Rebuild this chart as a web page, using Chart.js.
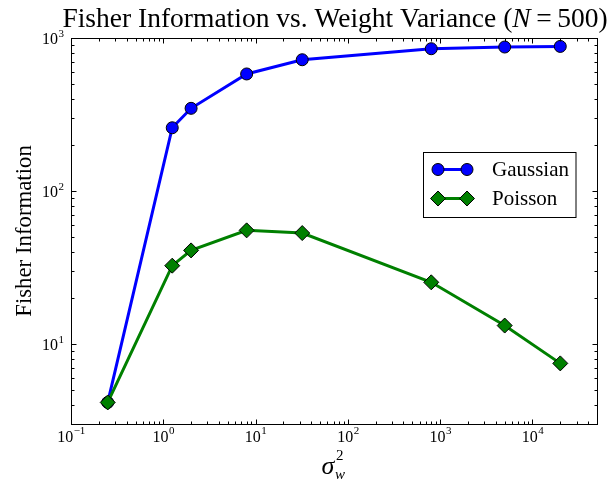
<!DOCTYPE html>
<html>
<head>
<meta charset="utf-8">
<script src="https://cdn.jsdelivr.net/npm/chart.js@4"></script>
<style>
html,body{margin:0;padding:0;background:#fff;}
canvas{display:block;}
</style>
</head>
<body>
<canvas id="c" width="614" height="479"></canvas>
<script>
// ---- data ----
const sigmaW2 = [0.25, 1.25, 2, 8, 32, 800, 5000, 20000];
const gaussian = [4.15, 259, 347, 582, 721, 851, 873, 881];
const poisson = [4.15, 32.5, 40.9, 55.3, 53.1, 25.3, 13.2, 7.47];
const seriesNames = ['Gaussian', 'Poisson'];
const xTickExps = [-1, 0, 1, 2, 3, 4];
const yTickExps = [1, 2, 3];
const titleParts = ['Fisher Information vs. Weight Variance (', 'N', '\u2009=\u2009500)'];
const yTitle = 'Fisher Information';

const SERIF = '"Liberation Serif", "DejaVu Serif", serif';

function pts(xs, ys) { return xs.map((x, i) => ({x: x, y: ys[i]})); }

function drawPow(ctx, exp, x, y, align, baseSize, expSize, rise) {
  const e = String(exp).replace('-', '\u2212');
  ctx.font = baseSize + 'px ' + SERIF;
  const w1 = ctx.measureText('10').width;
  ctx.font = expSize + 'px ' + SERIF;
  const w2 = ctx.measureText(e).width;
  let start;
  if (align === 'center') start = x - (w1 + w2) / 2;
  else start = x - (w1 + w2);
  ctx.textAlign = 'left';
  ctx.textBaseline = 'alphabetic';
  ctx.font = baseSize + 'px ' + SERIF;
  ctx.fillText('10', start, y);
  ctx.font = expSize + 'px ' + SERIF;
  ctx.fillText(e, start + w1 + 0.5, y - rise);
}

const decor = {
  id: 'decor',
  afterDatasetsDraw(chart) {
    const ctx = chart.ctx;
    const xs = chart.scales.x, ys = chart.scales.y;
    const a = chart.chartArea;
    const L = Math.round(a.left) + 0.5, R = Math.round(a.right) + 0.5;
    const T = Math.round(a.top) + 0.5, B = Math.round(a.bottom) + 0.5;
    ctx.save();
    ctx.strokeStyle = '#000';
    ctx.lineWidth = 1;
    // ticks
    ctx.beginPath();
    const majL = 5, minL = 3;
    for (let k = -1; k <= 5; k++) {
      for (let m = 1; m <= 9; m++) {
        const v = m * Math.pow(10, k);
        if (v < xs.min * 0.999 || v > xs.max * 1.001) continue;
        const px = Math.round(xs.getPixelForValue(v)) + 0.5;
        const len = m === 1 ? majL : minL;
        ctx.moveTo(px, B); ctx.lineTo(px, B - len);
        ctx.moveTo(px, T); ctx.lineTo(px, T + len);
      }
    }
    for (let k = 0; k <= 3; k++) {
      for (let m = 1; m <= 9; m++) {
        const v = m * Math.pow(10, k);
        if (v < ys.min * 0.999 || v > ys.max * 1.001) continue;
        const py = Math.round(ys.getPixelForValue(v)) + 0.5;
        const len = m === 1 ? majL : minL;
        ctx.moveTo(L, py); ctx.lineTo(L + len, py);
        ctx.moveTo(R, py); ctx.lineTo(R - len, py);
      }
    }
    ctx.stroke();
    // frame
    ctx.strokeRect(L, T, R - L, B - T);

    ctx.fillStyle = '#000';
    // x tick labels
    xTickExps.forEach(e => {
      const px = xs.getPixelForValue(Math.pow(10, e));
      drawPow(ctx, e, px, B + 17, 'center', 16, 11, 8);
    });
    // y tick labels
    yTickExps.forEach(e => {
      const py = ys.getPixelForValue(Math.pow(10, e));
      drawPow(ctx, e, L - 8, py + 6, 'right', 16, 11, 7);
    });

    // title
    ctx.textBaseline = 'alphabetic';
    ctx.textAlign = 'left';
    const tf = '27.5px ' + SERIF, tfi = 'italic 27.5px ' + SERIF;
    ctx.font = tf; const w0 = ctx.measureText(titleParts[0]).width;
    ctx.font = tfi; const w1 = ctx.measureText(titleParts[1]).width;
    ctx.font = tf; const w2 = ctx.measureText(titleParts[2]).width;
    const cx = (a.left + a.right) / 2;
    let tx = cx - (w0 + w1 + w2) / 2 + 1;
    const ty = 27;
    ctx.font = tf; ctx.fillText(titleParts[0], tx, ty); tx += w0;
    ctx.font = tfi; ctx.fillText(titleParts[1], tx, ty); tx += w1;
    ctx.font = tf; ctx.fillText(titleParts[2], tx, ty);

    // y axis title
    ctx.save();
    ctx.translate(31, (a.top + a.bottom) / 2);
    ctx.rotate(-Math.PI / 2);
    ctx.textAlign = 'center';
    ctx.font = '22.8px ' + SERIF;
    ctx.fillText(yTitle, 0, 0);
    ctx.restore();

    // x axis title: sigma_w^2
    ctx.font = 'italic 26px ' + SERIF;
    const ws = ctx.measureText('\u03C3').width;
    const sx = cx - ws / 2 - 6;
    ctx.fillText('\u03C3', sx, 474);
    ctx.font = 'italic 15px ' + SERIF;
    ctx.fillText('w', sx + ws + 0.5, 479);
    ctx.font = '15px ' + SERIF;
    ctx.fillText('2', sx + ws + 1.5, 460);

    // legend
    const bx = 423.5, by = 152.5, bw = 152.5, bh = 65;
    ctx.fillStyle = '#fff';
    ctx.fillRect(bx, by, bw, bh);
    ctx.strokeStyle = '#000';
    ctx.lineWidth = 1;
    ctx.strokeRect(bx, by, bw, bh);
    const rows = [169.5, 198.5];
    chart.data.datasets.slice().sort((p, q) => p.legendIndex - q.legendIndex).forEach((ds, i) => {
      const y = rows[i];
      ctx.strokeStyle = ds.borderColor;
      ctx.lineWidth = 3;
      ctx.beginPath(); ctx.moveTo(438, y); ctx.lineTo(467, y); ctx.stroke();
      [438, 467].forEach(x0 => {
        ctx.fillStyle = ds.pointBackgroundColor;
        ctx.strokeStyle = '#000';
        ctx.lineWidth = 1;
        Chart.helpers.drawPoint(ctx, {
          pointStyle: ds.pointStyle, radius: ds.pointRadius, rotation: 0, borderWidth: 1
        }, x0, y);
      });
      ctx.fillStyle = '#000';
      ctx.font = '21px ' + SERIF;
      ctx.textBaseline = 'middle';
      ctx.textAlign = 'left';
      ctx.fillText(ds.label, 492, y + 1);
    });
    ctx.restore();
  }
};

new Chart(document.getElementById('c'), {
  type: 'line',
  data: {
    datasets: [
      {
        label: seriesNames[0], legendIndex: 0,
        data: pts(sigmaW2, gaussian),
        borderColor: '#0000ff', borderWidth: 3,
        pointStyle: 'circle', pointRadius: 6,
        pointBackgroundColor: '#0000ff', pointBorderColor: '#000', pointBorderWidth: 1,
        tension: 0, order: 2
      },
      {
        label: seriesNames[1], legendIndex: 1,
        data: pts(sigmaW2, poisson),
        borderColor: '#008000', borderWidth: 3,
        pointStyle: 'rectRot', pointRadius: 7.5,
        pointBackgroundColor: '#008000', pointBorderColor: '#000', pointBorderWidth: 1,
        tension: 0, order: 1
      }
    ]
  },
  options: {
    responsive: false,
    animation: false,
    devicePixelRatio: 1,
    layout: { padding: { left: 71, right: 17, top: 38, bottom: 55 } },
    plugins: { legend: { display: false }, tooltip: { enabled: false }, title: { display: false } },
    scales: {
      x: { type: 'logarithmic', min: 0.1, max: 50000, display: false },
      y: { type: 'logarithmic', min: 3, max: 1000, display: false }
    }
  },
  plugins: [decor]
});
</script>
</body>
</html>
